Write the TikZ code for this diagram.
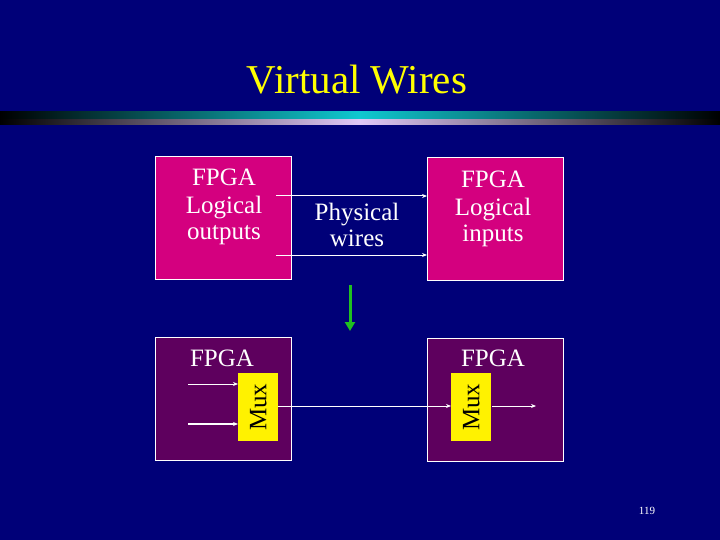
\documentclass[tikz,border=0pt]{standalone}
\usepackage{fontspec}
\setmainfont{Liberation Serif}
\usetikzlibrary{arrows.meta}
\definecolor{bg}{HTML}{000078}
\definecolor{mag}{HTML}{D4007F}
\definecolor{pur}{HTML}{5E005E}
\definecolor{ttl}{HTML}{FFFF00}
\definecolor{cy}{HTML}{10C8D0}
\definecolor{lav}{HTML}{E0C8F8}
\definecolor{grn}{HTML}{20C020}
\begin{document}
\begin{tikzpicture}[x=1pt,y=-1pt,
  box/.style={draw=white,line width=0.8pt,anchor=north west,inner sep=0pt},
  mux/.style={fill=yellow,anchor=north west,inner sep=0pt,minimum width=40pt,minimum height=68pt},
  lbl/.style={font=\fontsize{25}{26}\selectfont,text=white,align=center},
  wire/.style={white,line width=1pt,-{Stealth[length=5pt,width=4pt]}}]
\useasboundingbox[fill=bg] (0,0) rectangle (720,540);
\shade[left color=black,right color=cy] (0,112) rectangle (360,119);
\shade[right color=black,left color=cy] (360,112) rectangle (720,119);
\shade[left color=black,right color=lav] (0,120) rectangle (360,125);
\shade[right color=black,left color=lav] (360,120) rectangle (720,125);
\node[font=\fontsize{41}{40}\selectfont,text=ttl] (title) at (357,80) {Virtual Wires};
\node[box,fill=mag,minimum width=136pt,minimum height=123pt] (b1) at (155,156) {};
\node[box,fill=mag,minimum width=136pt,minimum height=123pt] (b2) at (427,157) {};
\node[box,fill=pur,minimum width=136pt,minimum height=123pt] (b3) at (155,337) {};
\node[box,fill=pur,minimum width=136pt,minimum height=123pt] (b4) at (427,338) {};
\node[lbl,text=white] (t1) at (224,207) {FPGA\\[2pt]Logical\\outputs};
\node[lbl] (t2) at (493,209) {FPGA\\[2pt]Logical\\inputs};
\node[lbl] (t3) at (357,225) {Physical\\wires};
\node[lbl] (t4) at (222,358) {FPGA};
\node[lbl] (t5) at (493,358) {FPGA};
\node[mux] (m1) at (238,373) {};
\node[mux] (m2) at (451,373) {};
\node[lbl,text=black,rotate=90] at (m1.center) {Mux};
\node[lbl,text=black,rotate=90] at (m2.center) {Mux};
\coordinate (a1) at (276,196); \coordinate (a2) at (427,196);
\coordinate (a3) at (276,255); \coordinate (a4) at (427,255);
\draw[wire] (a1) -- (a2);
\draw[wire] (a3) -- (a4);
\coordinate (g1) at (350,285); \coordinate (g2) at (350,331);
\draw[grn,line width=3pt,-{Triangle[length=9pt,width=10pt]}] (g1) -- (g2);
\coordinate (c1) at (188,384); \coordinate (c2) at (238,384);
\coordinate (c3) at (188,424); \coordinate (c4) at (238,424);
\draw[wire] (c1) -- (c2);
\draw[wire,line width=1.8pt] (c3) -- (c4);
\coordinate (d1) at (278,406); \coordinate (d2) at (451,406);
\draw[wire] (d1) -- (d2);
\coordinate (e1) at (492,406); \coordinate (e2) at (536,406);
\draw[wire] (e1) -- (e2);
\node[text=white,font=\fontsize{11}{12}\selectfont] (pg) at (647,511) {119};
\end{tikzpicture}
\end{document}
